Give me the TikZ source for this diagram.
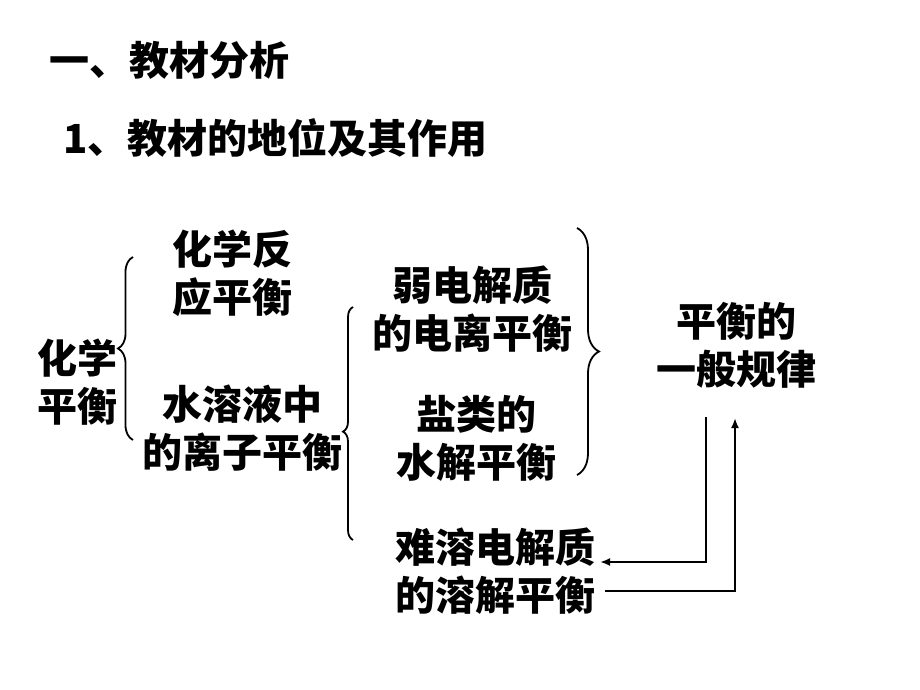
\documentclass[tikz,border=0pt]{standalone}
\usepackage{fontspec}
\newfontfamily\cjk{Noto Sans CJK SC}
\usetikzlibrary{decorations.pathreplacing,arrows.meta}
\begin{document}
\begin{tikzpicture}[x=1pt,y=-1pt,
  txt/.style={font=\cjk\bfseries\fontsize{40}{48}\selectfont, align=center, inner sep=1pt},
  bracestyle/.style={decorate, line width=1.8pt},
  conn/.style={line width=2.2pt},
  tip/.style={-{Latex[length=10pt,width=8pt]}}]
\fill[white] (0,0) rectangle (920,690);
\useasboundingbox (0,0) rectangle (920,690);
% titles
\node[txt, anchor=west] (t1) at (48,60) {一、教材分析};
\node[txt, anchor=west] (t2) at (62,138) {1、教材的地位及其作用};
% text nodes
\node[txt] (hx)   at (77,382)  {化学\\平衡};
\node[txt] (fy)   at (232,273) {化学反\\应平衡};
\node[txt] (sr)   at (242,428) {水溶液中\\的离子平衡};
\node[txt] (rd)   at (472,309) {弱电解质\\的电离平衡};
\node[txt] (yl)   at (476,438) {盐类的\\水解平衡};
\node[txt] (nr)   at (495,571) {难溶电解质\\的溶解平衡};
\node[txt] (gl)   at (736,345) {平衡的\\一般规律};
% braces
\coordinate (b1a) at (133,440); \coordinate (b1b) at (133,257);
\coordinate (b2a) at (353,540); \coordinate (b2b) at (353,307);
\coordinate (b3a) at (577,228); \coordinate (b3b) at (577,475);
\draw[bracestyle, decoration={brace, amplitude=15pt}] (b1a) -- (b1b);
\draw[bracestyle, decoration={brace, amplitude=10pt, aspect=0.465}] (b2a) -- (b2b);
\draw[bracestyle, decoration={brace, amplitude=22pt}] (b3a) -- (b3b);
% connectors
\coordinate (s1) at (706,417);
\coordinate (e1) at (600,562);
\coordinate (s2) at (605,591);
\coordinate (e2) at (735,418);
\draw[conn, tip] (s1) |- (e1);
\draw[conn, tip] (s2) -| (e2);
\end{tikzpicture}
\end{document}
